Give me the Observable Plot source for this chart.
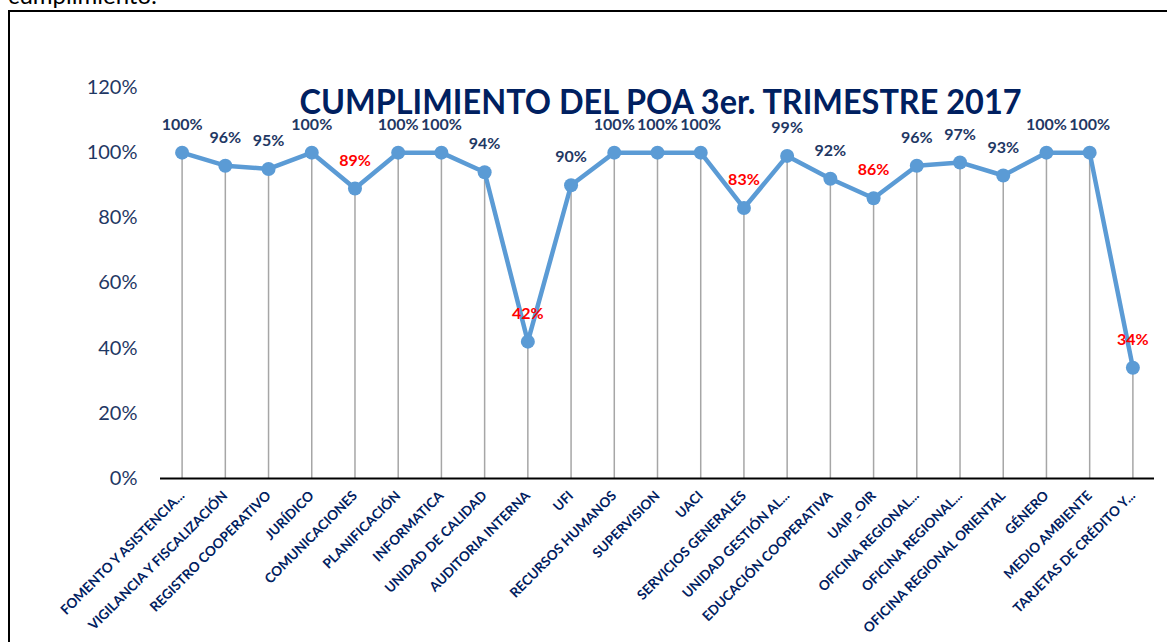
<!DOCTYPE html>
<html><head><meta charset="utf-8">
<script src="https://cdn.jsdelivr.net/npm/d3@7"></script>
<script src="https://cdn.jsdelivr.net/npm/@observablehq/plot@0.6"></script>
<style>
body{margin:0;background:#fff;overflow:hidden;width:1167px;height:642px;position:relative;font-family:Lato,sans-serif}
#lead{position:absolute;left:8px;top:-17px;font-size:24px;font-family:Lato,sans-serif;color:#000;line-height:1}
#box{position:absolute;left:8px;top:10px;width:1200px;height:700px;border:2px solid #000;box-sizing:border-box}
#chart{position:absolute;left:0;top:0}
</style></head><body>
<div id="lead">cumplimiento:</div>
<div id="box"></div>
<div id="chart"></div>
<script>
const areas = ["FOMENTO Y ASISTENCIA...","VIGILANCIA Y FISCALIZACIÓN","REGISTRO COOPERATIVO","JURÍDICO","COMUNICACIONES","PLANIFICACIÓN","INFORMATICA","UNIDAD DE CALIDAD","AUDITORIA INTERNA","UFI","RECURSOS HUMANOS","SUPERVISION","UACI","SERVICIOS GENERALES","UNIDAD GESTIÓN AL...","EDUCACIÓN COOPERATIVA","UAIP_OIR","OFICINA REGIONAL...","OFICINA REGIONAL...","OFICINA REGIONAL ORIENTAL","GÉNERO","MEDIO AMBIENTE","TARJETAS DE CRÉDITO Y..."];
const cumplimiento = [100,96,95,100,89,100,100,94,42,90,100,100,100,83,99,92,86,96,97,93,100,100,34];
const yTicks = [0,20,40,60,80,100,120];
const title = "CUMPLIMIENTO DEL POA 3er. TRIMESTRE 2017";
const data = areas.map((a,i)=>({i, area:a, v:cumplimiento[i]}));
const navy = "#1F3864";
const titleColor = "#002060";
const lineColor = "#5B9BD5";
const plot = Plot.plot({
  width:1167, height:642, marginLeft:160, marginRight:13, marginTop:87, marginBottom:164,
  style:{background:"transparent", fontFamily:"Lato, sans-serif", overflow:"visible"},
  x:{type:"point", domain:d3.range(areas.length), padding:0.5, round:false, axis:null, label:null},
  y:{domain:[0,120], axis:null, label:null},
  marks:[
    Plot.ruleX(data,{x:"i", y1:0, y2:"v", stroke:"#A6A6A6", strokeWidth:1.5}),
    Plot.ruleY([0],{stroke:"#000", strokeWidth:2}),
    Plot.axisY({ticks:yTicks, tickSize:0, tickPadding:23, tickFormat:d=>d+"%", fontSize:20, color:navy, label:null}),
    Plot.axisX({ticks:d3.range(areas.length), tickFormat:i=>areas[i], tickRotate:-45, tickSize:0, tickPadding:15, fontSize:13.5, fontWeight:"bold", color:titleColor, label:null}),
    Plot.line(data,{x:"i", y:"v", stroke:lineColor, strokeWidth:4.5}),
    Plot.dot(data,{x:"i", y:"v", r:7, fill:lineColor}),
    Plot.text(data.filter(d=>d.v>=90),{x:"i", y:"v", text:d=>d.v+"%", dy:-28, fill:navy, fontWeight:"bold", fontSize:16}),
    Plot.text(data.filter(d=>d.v<90),{x:"i", y:"v", text:d=>d.v+"%", dy:-28, fill:"#FF0000", fontWeight:"bold", fontSize:16}),
    Plot.text([title],{frameAnchor:"top", lineAnchor:"middle", dx:3, dy:16, fontSize:34, fontWeight:"bold", fill:titleColor})
  ]
});
plot.querySelectorAll("text").forEach(t=>{
  if (t.textContent === title) { t.setAttribute("textLength", 722); t.setAttribute("lengthAdjust","spacingAndGlyphs"); }
});
document.getElementById("chart").appendChild(plot);
</script>
</body></html>
